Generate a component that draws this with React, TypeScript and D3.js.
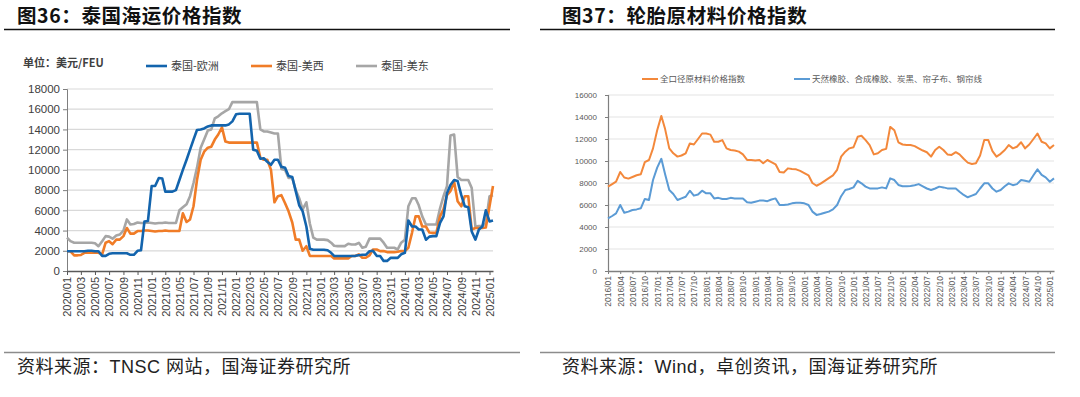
import React, { useEffect, useRef } from "react";
import * as d3 from "d3";

// 图36：泰国海运价格指数，美元/FEU，半月一个点，从 2020/01/01 起
const euroValues = [
  1950, 1950, 1950, 1950, 1950, 1950, 2000, 2000, 1950, 1950,
  1500, 1500, 1700, 1750, 1750, 1750, 1750, 1750, 1600, 1600,
  2000, 2050, 4900, 4950, 8400, 8400, 9200, 9150, 7850, 7850,
  7850, 8000, 9000, 10000, 11000, 12000, 13000, 13950, 14000, 14100,
  14300, 14400, 14400, 14400, 14400, 14400, 14500, 14800, 15500, 15550,
  15550, 15550, 15550, 12000, 11900, 11100, 11150, 10800, 10500, 11000,
  11000, 10300, 10200, 9400, 9300, 7900, 6500, 5900, 4400, 2200,
  2100, 2100, 2100, 2100, 2050, 1800, 1500, 1480, 1480, 1480,
  1480, 1480, 1500, 1550, 1600, 1600, 1950, 2000, 1500, 1480,
  1000, 1000, 1300, 1300, 1300, 1650, 1800, 5000, 4400, 4400,
  4100, 4100, 3100, 3400, 3450, 3450, 4750, 5400, 7700, 8500,
  9000, 8900, 7500, 6400, 6300, 3900, 3100, 4100, 4400, 6000,
  4900, 5000,
];
const usWestValues = [
  1950, 1950, 1550, 1550, 1580, 1800, 1800, 1800, 1800, 1800,
  1650, 2800, 2950, 2650, 3100, 3100, 3450, 4250, 3700, 3700,
  3950, 3950, 4000, 4000, 3950, 3900, 3950, 3950, 4000, 3950,
  3950, 3950, 3950, 5700, 4850, 5100, 6400, 9000, 11000, 11800,
  12200, 12300, 13000, 13500, 14200, 12800, 12700, 12700, 12700, 12700,
  12700, 12700, 12700, 12700, 12700, 11200, 11000, 11000, 10000, 6800,
  7400, 7500, 6700, 5900, 4800, 3100, 3100, 2000, 2450, 1500,
  1480, 1480, 1480, 1480, 1480, 1480, 1250, 1250, 1250, 1250,
  1250, 1480, 1480, 1640, 1310, 1310, 1540, 2130, 2130, 1970,
  1970, 1870, 1870, 1870, 1900, 1970, 1970, 2300, 3800, 5400,
  5400, 4400, 4400, 3800, 3770, 3770, 5400, 6100, 7500, 7900,
  8800, 6900, 6400, 7400, 7400, 4100, 4250, 4250, 4250, 4300,
  6400, 8400,
];
const usEastValues = [
  3300, 2950, 2800, 2800, 2800, 2800, 2800, 2800, 2750, 2450,
  2950, 3450, 3400, 3200, 3500, 3600, 4000, 5100, 4600, 4650,
  4800, 4750, 4750, 4800, 4750, 4700, 4750, 4750, 4800, 4750,
  4750, 4750, 6000, 6300, 6600, 7400, 8700, 10200, 12200, 13000,
  13900, 14000, 15100, 15300, 15600, 15800, 16000, 16700, 16700, 16700,
  16700, 16700, 16700, 16700, 16700, 14000, 13800, 13800, 13700, 13600,
  13600, 10100, 10000, 9200, 9200, 8000, 7200, 6100, 6800, 4700,
  3300, 3100, 3100, 3100, 3050, 2800, 2500, 2460, 2460, 2460,
  2700, 2620, 2620, 2790, 2300, 2400, 3200, 3200, 3200, 3200,
  2800, 2300, 2300, 2300, 2130, 2800, 3100, 6400, 7200, 7200,
  6500, 5400, 4600, 4600, 4600, 4600, 6200, 7400, 8400, 13400,
  13500, 9300, 9000, 9000, 9000, 8200, 4400, 4450, 4450, 4750,
  7400, 7500,
];
const shipNames = ["泰国-欧洲", "泰国-美西", "泰国-美东"];
const shipColors = ["#1364ad", "#f07c27", "#a6a6a6"];
const shipTicks = [0, 2000, 4000, 6000, 8000, 10000, 12000, 14000, 16000, 18000];

// 图37：轮胎原材料价格指数，每月一个点，从 2016/01 起
const allRawValues = [
  7670, 7900, 8120, 9000, 8500, 8400, 8550, 8700, 8800, 9900,
  10090, 11150, 12800, 14100, 12900, 11150, 10700, 10400, 10500, 10700,
  11600, 11500, 12000, 12500, 12500, 12400, 11750, 11750, 11900, 11150,
  11000, 10950, 10850, 10600, 10100, 10090, 10050, 10090, 9800, 10090,
  9900, 9700, 9000, 8950, 9330, 9280, 9240, 9100, 8900, 8700,
  8000, 7750, 7950, 8200, 8450, 8700, 9200, 10400, 10850, 11150,
  11250, 12200, 12300, 11900, 11450, 10600, 10700, 11000, 11100, 13100,
  12800, 11700, 11500, 11450, 11450, 11350, 11150, 10950, 10800, 10400,
  11000, 11300, 11000, 10600, 10550, 10800, 10600, 10200, 9850, 9730,
  9800, 10500, 11900, 11900, 10900, 10400, 10650, 11000, 11450, 11150,
  11300, 11700, 11150, 11500, 12000, 12500, 11750, 11600, 11150, 11450,
];
const rubberValues = [
  4790, 5000, 5240, 6000, 5300, 5400, 5550, 5600, 5700, 6550,
  6450, 8270, 9400, 10200, 8800, 7360, 7000, 6450, 6600, 6750,
  7300, 6850, 6950, 7300, 7060, 7060, 6600, 6650, 6550, 6550,
  6650, 6600, 6600, 6600, 6250, 6200, 6300, 6400, 6400, 6350,
  6500, 6600, 6000, 6000, 6050, 6150, 6200, 6200, 6150, 6000,
  5400, 5100, 5180, 5300, 5400, 5600, 6000, 6800, 7360, 7450,
  7600, 8200, 7970, 7670, 7510, 7510, 7510, 7600, 7510, 8420,
  8270, 7820, 7700, 7700, 7730, 7800, 7900, 7700, 7500, 7360,
  7500, 7670, 7600, 7510, 7510, 7500, 7210, 6910, 6700, 6850,
  7000, 7500, 7970, 7970, 7500, 7210, 7360, 7700, 7970, 7800,
  7900, 8270, 8200, 8120, 8700, 9240, 8730, 8510, 8120, 8420,
];
const tireNames = ["全口径原材料价格指数", "天然橡胶、合成橡胶、炭黑、帘子布、钢帘线"];
const tireColors = ["#f3883b", "#5b9bd5"];
const tireTicks = [0, 2000, 4000, 6000, 8000, 10000, 12000, 14000, 16000];

const cjk = "'Noto Sans CJK SC', sans-serif";
const latin = "'Liberation Sans', Arial, 'Noto Sans CJK SC', sans-serif";

export default function App() {
  const svgRef = useRef<SVGSVGElement>(null);

  useEffect(() => {
    const svg = d3.select(svgRef.current);
    svg.selectAll("*").remove();

    // ---------- 图36 ----------
    const shipDates = euroValues.map((_, k) => new Date(2020, Math.floor(k / 2), k % 2 ? 16 : 1));
    const x1 = d3.scaleTime().domain([new Date(2020, 0, 1), new Date(2025, 0, 16)]).range([67, 493]);
    const y1 = d3.scaleLinear().domain([0, 18000]).range([271, 89]);
    const g1 = svg.append("g");

    g1.selectAll("line.grid")
      .data(shipTicks.slice(1))
      .join("line")
      .attr("x1", 67)
      .attr("x2", 493)
      .attr("y1", (d) => y1(d))
      .attr("y2", (d) => y1(d))
      .attr("stroke", "#d9d9d9")
      .attr("stroke-width", 1.2);

    const yAx1 = g1
      .append("g")
      .attr("transform", "translate(67,0)")
      .call(d3.axisLeft(y1).tickValues(shipTicks).tickSize(4).tickPadding(3).tickFormat(d3.format("d")));
    yAx1.select(".domain").attr("stroke", "#7f7f7f");
    yAx1.selectAll("line").attr("stroke", "#7f7f7f");
    yAx1.selectAll("text").attr("font-family", latin).attr("font-size", 11.5).attr("fill", "#404040");

    const monthFmt = d3.timeFormat("%Y/%m");
    const xAx1 = g1
      .append("g")
      .attr("transform", "translate(0,271)")
      .call(
        d3
          .axisBottom(x1)
          .tickValues(d3.timeMonth.every(2)!.range(new Date(2020, 0, 1), new Date(2025, 0, 2)))
          .tickSize(4)
          .tickSizeOuter(0)
          .tickFormat((d) => monthFmt(d as Date))
      );
    xAx1.select(".domain").attr("stroke", "#595959").attr("stroke-width", 1.5);
    xAx1.selectAll("line").attr("stroke", "#595959");
    xAx1
      .selectAll("text")
      .attr("font-family", latin)
      .attr("font-size", 11)
      .attr("fill", "#404040")
      .attr("transform", "rotate(-90)")
      .attr("text-anchor", "end")
      .attr("x", -6)
      .attr("y", 0)
      .attr("dy", "0.35em");

    const line1 = d3
      .line<number>()
      .x((_, i) => x1(shipDates[i]))
      .y((d) => y1(d));
    [euroValues, usWestValues, usEastValues]
      .map((vals, i) => ({ vals, i }))
      .reverse()
      .forEach(({ vals, i }) => {
        g1.append("path")
          .attr("d", line1(vals))
          .attr("fill", "none")
          .attr("stroke", shipColors[i])
          .attr("stroke-width", 2.6)
          .attr("stroke-linejoin", "round");
      });

    g1.append("text")
      .attr("x", 23)
      .attr("y", 67)
      .attr("font-family", cjk)
      .attr("font-size", 11)
      .attr("font-weight", "bold")
      .attr("fill", "#404040")
      .text("单位：美元/FEU");

    const leg1X = [146, 251, 356];
    shipNames.forEach((name, i) => {
      g1.append("line")
        .attr("x1", leg1X[i])
        .attr("x2", leg1X[i] + 21)
        .attr("y1", 66)
        .attr("y2", 66)
        .attr("stroke", shipColors[i])
        .attr("stroke-width", 2.6);
      g1.append("text")
        .attr("x", leg1X[i] + 25)
        .attr("y", 70)
        .attr("font-family", cjk)
        .attr("font-size", 11)
        .attr("fill", "#404040")
        .text(name);
    });

    // ---------- 图37 ----------
    const tireDates = allRawValues.map((_, k) => new Date(2016, k, 1));
    const x2 = d3.scaleTime().domain([new Date(2016, 0, 1), new Date(2025, 1, 1)]).range([608, 1054]);
    const y2 = d3.scaleLinear().domain([0, 16000]).range([271, 95]);
    const g2 = svg.append("g");

    g2.selectAll("line.grid")
      .data(tireTicks.slice(1))
      .join("line")
      .attr("x1", 608)
      .attr("x2", 1054)
      .attr("y1", (d) => y2(d))
      .attr("y2", (d) => y2(d))
      .attr("stroke", "#e3e3e3")
      .attr("stroke-width", 1.2);

    const yAx2 = g2
      .append("g")
      .attr("transform", "translate(608,0)")
      .call(d3.axisLeft(y2).tickValues(tireTicks).tickSize(3).tickPadding(8).tickFormat(d3.format("d")));
    yAx2.select(".domain").attr("stroke", "#7f7f7f").attr("stroke-width", 1.2);
    yAx2.selectAll("line").attr("stroke", "#7f7f7f");
    yAx2.selectAll("text").attr("font-family", latin).attr("font-size", 8).attr("fill", "#595959");

    const xAx2 = g2
      .append("g")
      .attr("transform", "translate(0,271)")
      .call(
        d3
          .axisBottom(x2)
          .tickValues(d3.timeMonth.every(3)!.range(new Date(2016, 0, 1), new Date(2025, 0, 2)))
          .tickSize(3)
          .tickSizeOuter(0)
          .tickFormat((d) => monthFmt(d as Date))
      );
    xAx2.select(".domain").attr("stroke", "#7f7f7f").attr("stroke-width", 1.5);
    xAx2.selectAll("line").attr("stroke", "#7f7f7f");
    xAx2
      .selectAll("text")
      .attr("font-family", latin)
      .attr("font-size", 8.5)
      .attr("fill", "#595959")
      .attr("transform", "rotate(-90)")
      .attr("text-anchor", "end")
      .attr("x", -5)
      .attr("y", 0)
      .attr("dy", "0.35em");

    const line2 = d3
      .line<number>()
      .x((_, i) => x2(tireDates[i]))
      .y((d) => y2(d));
    [allRawValues, rubberValues].forEach((vals, i) => {
      g2.append("path")
        .attr("d", line2(vals))
        .attr("fill", "none")
        .attr("stroke", tireColors[i])
        .attr("stroke-width", 2)
        .attr("stroke-linejoin", "round");
    });

    const leg2X = [642, 794];
    tireNames.forEach((name, i) => {
      g2.append("line")
        .attr("x1", leg2X[i])
        .attr("x2", leg2X[i] + 16)
        .attr("y1", 79)
        .attr("y2", 79)
        .attr("stroke", tireColors[i])
        .attr("stroke-width", 2);
      g2.append("text")
        .attr("x", leg2X[i] + 18)
        .attr("y", 82)
        .attr("font-family", cjk)
        .attr("font-size", 8.5)
        .attr("fill", "#595959")
        .text(name);
    });
  }, []);

  const titleStyle = { fontFamily: cjk, fontWeight: 700, fontSize: 19.5, letterSpacing: 0.6, fill: "#111" } as const;
  const srcStyle = { fontFamily: latin, fontSize: 18, letterSpacing: 0.5, fill: "#222" } as const;

  return (
    <div style={{ position: "absolute", left: 0, top: 0 }}>
      <svg ref={svgRef} width={1080} height={397} style={{ display: "block", background: "#fff" }} />
      <svg width={1080} height={397} style={{ position: "absolute", left: 0, top: 0, pointerEvents: "none" }}>
        <text x={17} y={23} style={titleStyle}>图36：泰国海运价格指数</text>
        <line x1={4} x2={510} y1={29.5} y2={29.5} stroke="#111" strokeWidth={1.5} />
        <text x={562} y={23} style={titleStyle}>图37：轮胎原材料价格指数</text>
        <line x1={540} x2={1055} y1={29.5} y2={29.5} stroke="#111" strokeWidth={1.5} />
        <line x1={4} x2={520} y1={352.5} y2={352.5} stroke="#8c8c8c" strokeWidth={1.5} />
        <text x={17} y={373} style={srcStyle}>资料来源：TNSC 网站，国海证券研究所</text>
        <line x1={540} x2={1055} y1={352.5} y2={352.5} stroke="#8c8c8c" strokeWidth={1.5} />
        <text x={562} y={373} style={srcStyle}>资料来源：Wind，卓创资讯，国海证券研究所</text>
      </svg>
    </div>
  );
}
